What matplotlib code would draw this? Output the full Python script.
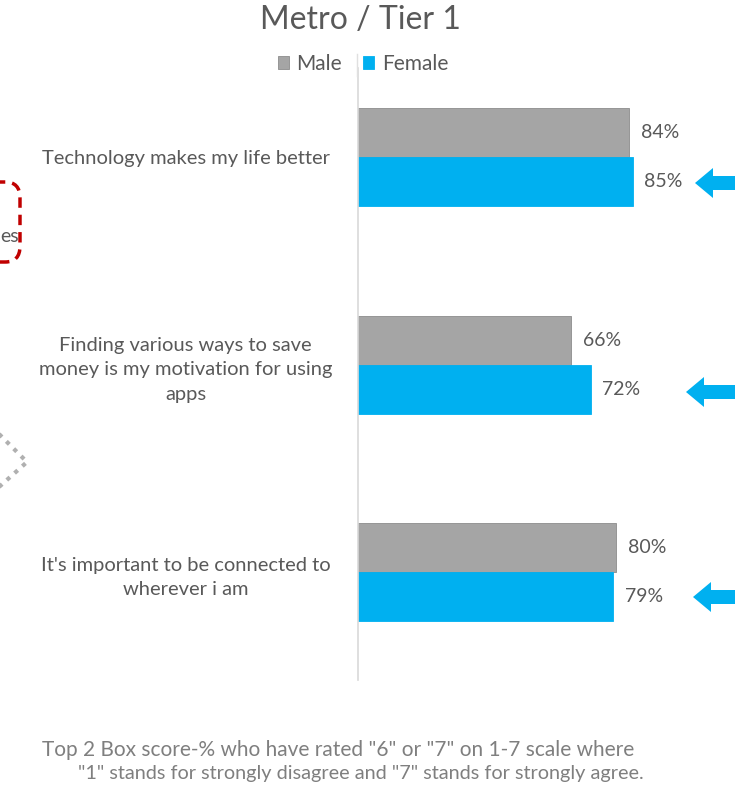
import matplotlib.pyplot as plt
from matplotlib.patches import FancyBboxPatch, FancyArrow, Polygon

plt.rcParams['font.family'] = ['Lato', 'DejaVu Sans']

categories = [
    "Technology makes my life better",
    "Finding various ways to save\nmoney is my motivation for using\napps",
    "It's important to be connected to\nwherever i am",
]
male = [84, 66, 80]
female = [85, 72, 79]

W, H = 735, 790
fig = plt.figure(figsize=(W / 100, H / 100), dpi=100)


def fx(x):
    return x / W


def fy(y):
    return 1 - y / H


grey_txt = "#595959"
male_col = "#A5A5A5"
female_col = "#00B0F0"

ax = fig.add_axes([fx(358), fy(680), (681 - 358) / W, (680 - 68) / H])
pos = list(range(len(categories)))
h = 0.236
ax.barh([p - h / 2 for p in pos], male, height=h, color=male_col,
        edgecolor="#8c8c8c", linewidth=0.6, label="Male")
ax.barh([p + h / 2 for p in pos], female, height=h, color=female_col,
        edgecolor=female_col, linewidth=0.6, label="Female")

for p, m, f in zip(pos, male, female):
    ax.text(m + 3.6, p - h / 2, f"{m}%", va="center", ha="left",
            fontsize=14, color=grey_txt)
    ax.text(f + 3.6, p + h / 2, f"{f}%", va="center", ha="left",
            fontsize=14, color=grey_txt)

ax.set_xlim(0, 100)
ax.set_ylim(2.52, -0.429)
ax.set_yticks(pos)
ax.set_yticklabels(categories, fontsize=14.5, color=grey_txt, ha="center",
                   linespacing=1.55)
ax.tick_params(axis="y", length=0, pad=124)
ax.set_xticks([])
for s in ["top", "right", "bottom"]:
    ax.spines[s].set_visible(False)
ax.spines["left"].set_color("#d9d9d9")
ax.spines["left"].set_linewidth(1.2)

fig.text(fx(360), fy(20), "Metro / Tier 1", ha="center", va="center",
         fontsize=23, color=grey_txt)

leg = fig.legend(loc="center", bbox_to_anchor=(fx(363), fy(64)), ncol=2,
                 frameon=False, fontsize=15, handlelength=0.55,
                 handleheight=0.55, handletextpad=0.35, columnspacing=1.0,
                 labelcolor=grey_txt)
fig.add_artist(plt.Line2D([fx(357), fx(357)], [fy(54), fy(76)],
                          transform=fig.transFigure, color="#e0e0e0", lw=1))

fig.text(fx(338), fy(750), 'Top 2 Box score-% who have rated "6" or "7" on 1-7 scale where',
         ha="center", va="center", fontsize=15, color="#7f7f7f")
fig.text(fx(361), fy(773), '"1" stands for strongly disagree and "7" stands for strongly agree.',
         ha="center", va="center", fontsize=14.3, color="#7f7f7f")

# leftover shapes from the slide
box = FancyBboxPatch((fx(-40), fy(262)), fx(60), (262 - 182) / H,
                     boxstyle="round,pad=0,rounding_size=0.02",
                     transform=fig.transFigure, fill=False,
                     edgecolor="#C00000", linestyle=(0, (3, 2)), linewidth=2.5)
fig.patches.append(box)
fig.text(fx(0.5), fy(237), "es", ha="left", va="center", fontsize=14,
         color=grey_txt)

diamond = Polygon([(fx(-10), fy(425)), (fx(27), fy(462)), (fx(-10), fy(495))],
                  closed=False, transform=fig.transFigure, fill=False,
                  edgecolor="#b0b0b0", linestyle=(0, (1, 1.5)), linewidth=3)
fig.patches.append(diamond)

for tip_x, tip_y in [(695, 183), (686, 392), (693, 597)]:
    arr = FancyArrow(fx(745), fy(tip_y), fx(tip_x - 745), 0,
                     width=14 / H, head_width=30 / H, head_length=fx(18),
                     length_includes_head=True, transform=fig.transFigure,
                     color=female_col, linewidth=0)
    fig.patches.append(arr)

fig.savefig("out.png", dpi=100, facecolor="white")
